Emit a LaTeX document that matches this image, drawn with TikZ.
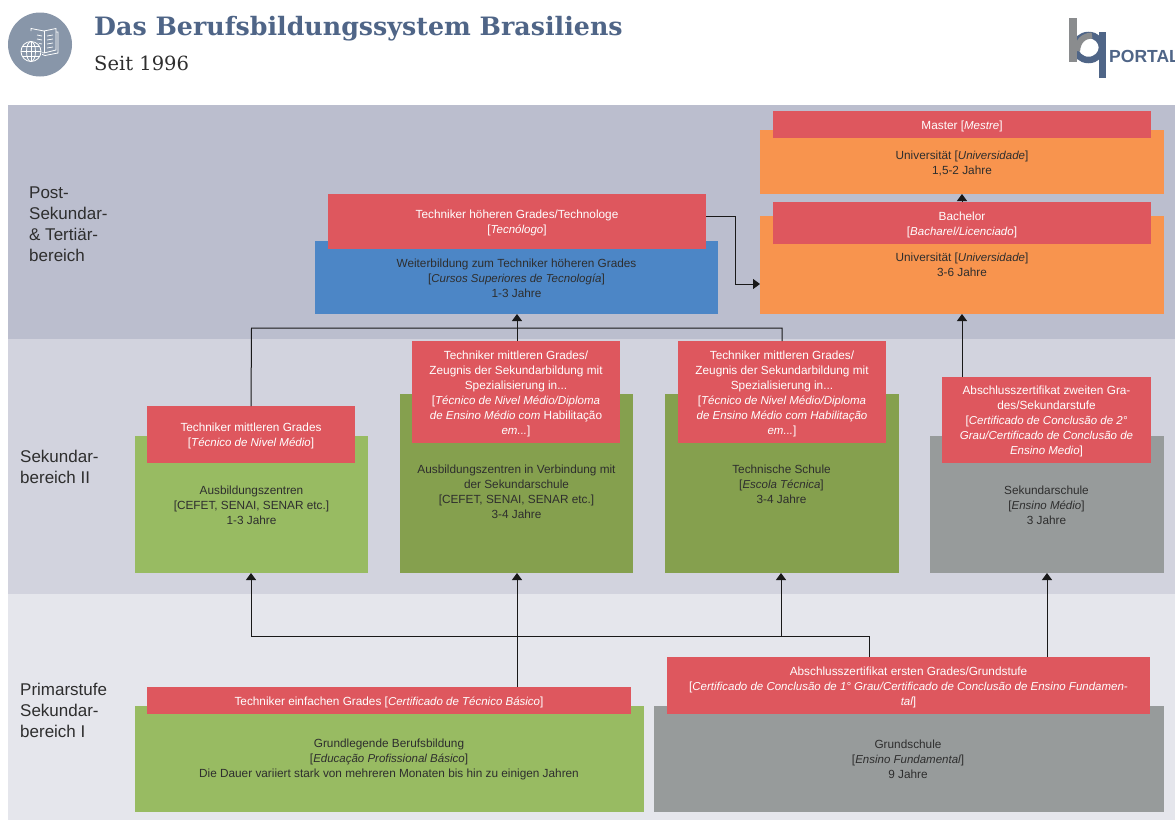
\documentclass[tikz,border=0pt]{standalone}
\usepackage{fontspec}
\setmainfont{Liberation Sans}
\newfontfamily\slabfont{DejaVu Serif}
\usetikzlibrary{arrows.meta}
\definecolor{bandA}{HTML}{BBBECE}
\definecolor{bandB}{HTML}{D2D3DE}
\definecolor{bandC}{HTML}{E5E6EC}
\definecolor{redbox}{HTML}{DE575E}
\definecolor{orangebox}{HTML}{F8944E}
\definecolor{bluebox}{HTML}{4C86C6}
\definecolor{lightgreen}{HTML}{98BB62}
\definecolor{darkgreen}{HTML}{85A04E}
\definecolor{greybox}{HTML}{979B9B}
\definecolor{titleblue}{HTML}{4F6587}
\definecolor{iconblue}{HTML}{8896A9}
\definecolor{logogrey}{HTML}{8A8C8E}
\definecolor{bodytext}{HTML}{2E2E2E}
\newcommand{\ital}[1]{{\fontsize{11.5}{15}\selectfont\itshape #1}}
\tikzset{
  px/.style={x=1pt,y=-1pt},
  fill box/.style={inner sep=0pt,outer sep=0pt,anchor=north west,draw=none},
  body/.style={font=\fontsize{11.8}{15}\selectfont,text=bodytext,align=center,inner sep=0pt},
  redtext/.style={font=\fontsize{11.8}{15}\selectfont,text=white,align=center,inner sep=0pt},
  side/.style={font=\fontsize{17}{21}\selectfont,text=bodytext,align=left,inner sep=0pt,anchor=north west},
  link/.style={draw=black!90,line width=1pt},
  arrow/.style={link,-{Triangle[length=7pt,width=10pt]}},
  iconline/.style={draw=white,line width=.8pt},
}
% name, x1, y1, x2, y2, fill
\newcommand{\bx}[6]{\pgfmathsetmacro{\bw}{#4-#2}\pgfmathsetmacro{\bh}{#5-#3}%
  \node[fill box,fill=#6,minimum width=\bw pt,minimum height=\bh pt] (#1) at (#2,#3) {};}
% name, text: white caption of a red box
\newcommand{\redcap}[2]{\node[redtext] (#1-text) at ([yshift=-1.5pt]#1.center) {#2};}
\begin{document}
\begin{tikzpicture}[px]
\useasboundingbox (0,0) rectangle (1175,820);
\fill[white] (0,0) rectangle (1175,820);
% bands
\fill[bandA] (8,105) rectangle (1175,339);
\fill[bandB] (8,339) rectangle (1175,594);
\fill[bandC] (8,594) rectangle (1175,820);
% header icon
\fill[iconblue] (40,44.5) circle (32);
\draw[iconline] (31,31) -- (31,28.5) -- (44,31) -- (56,28.5) -- (56,50) -- (44,53) -- (36,51);
\draw[iconline] (44,31) -- (44,53);
\draw[iconline] (56,32) -- (58,32) -- (58,53) -- (45,55.5) -- (41,54);
\foreach \yy in {35,39,43,47}{\draw[iconline,line width=.7pt] (37,\yy) -- (42,\yy+1); \draw[iconline,line width=.7pt] (47,\yy+1) -- (53,\yy);}
\fill[iconblue] (31,51.5) circle (11.5);
\draw[iconline] (31,51.5) circle (10);
\draw[iconline] (31,51.5) ellipse (4.5 and 10);
\draw[iconline] (31,41.5) -- (31,61.5) (21,51.5) -- (41,51.5) (22.5,46.5) -- (39.5,46.5) (22.5,56.5) -- (39.5,56.5);
% title
\node[anchor=west,inner sep=0pt,text=titleblue,font=\slabfont\bfseries\fontsize{25.3}{28}\selectfont] (title) at (94,28.5) {Das Berufsbildungssystem Brasiliens};
\node[anchor=west,inner sep=0pt,text=bodytext,font=\slabfont\fontsize{19.5}{24}\selectfont] (subtitle) at (94,63) {Seit 1996};
% logo
\draw[titleblue,line width=6.5pt] (1088.5,47.5) ellipse (13.5 and 12.5);
\draw[logogrey,line width=6pt] (1077,51) .. controls (1078,41) and (1083,36) .. (1092,35.5);
\fill[titleblue] (1099,32) rectangle (1106,78);
\fill[logogrey] (1069,18) rectangle (1077,62);
\node[anchor=west,inner sep=0pt,text=titleblue,font=\bfseries\fontsize{17.5}{20}\selectfont] (portal) at (1109,56) {PORTAL};
% band labels
\node[side] (l1) at (29,187) {Post-\\Sekundar-\\\& Tertiär-\\bereich};
\node[side] (l2) at (20,450) {Sekundar-\\bereich II};
\node[side] (l3) at (20,683) {Primarstufe\\Sekundar-\\bereich I};
% base boxes
\bx{mastbase}{760}{130}{1164}{194}{orangebox}
\bx{bachbase}{760}{216}{1164}{314}{orangebox}
\bx{bluebase}{315}{241}{718}{314}{bluebox}
\bx{ausb}{135}{436}{368}{573}{lightgreen}
\bx{ausbv}{400}{394}{633}{573}{darkgreen}
\bx{tech}{665}{394}{899}{573}{darkgreen}
\bx{sek}{930}{436}{1164}{573}{greybox}
\bx{grundl}{135}{706}{644}{812}{lightgreen}
\bx{grunds}{654}{706}{1164}{812}{greybox}
% base texts
\node[body] (t1) at (962,163.5) {Universität [\ital{Universidade}]\\1,5-2 Jahre};
\node[body] (t2) at (962,265) {Universität [\ital{Universidade}]\\3-6 Jahre};
\node[body] (t3) at (516.5,278) {Weiterbildung zum Techniker höheren Grades\\{}[\ital{Cursos Superiores de Tecnología}]\\1-3 Jahre};
\node[body] (t4) at (251.5,505) {Ausbildungszentren\\{}[CEFET, SENAI, SENAR etc.]\\1-3 Jahre};
\node[body] (t5) at (516.5,492) {Ausbildungszentren in Verbindung mit\\der Sekundarschule\\{}[CEFET, SENAI, SENAR etc.]\\3-4 Jahre};
\node[body] (t6) at (781.5,484) {Technische Schule\\{}[\ital{Escola Técnica}]\\3-4 Jahre};
\node[body] (t7) at (1046.5,505) {Sekundarschule\\{}[\ital{Ensino Médio}]\\3 Jahre};
\node[body] (t8) at (389,759.5) {Grundlegende Berufsbildung\\{}[\ital{Educação Profissional Básico}]\\Die Dauer variiert stark von mehreren Monaten bis hin zu einigen Jahren};
\node[body] (t9) at (908,759.5) {Grundschule\\{}[\ital{Ensino Fundamental}]\\9 Jahre};
% red boxes
\bx{rmast}{773}{111}{1151}{138}{redbox}
\bx{rbach}{773}{202}{1151}{244}{redbox}
\bx{rtech}{328}{194}{706}{249}{redbox}
\bx{rausb}{147}{406}{355}{463}{redbox}
\bx{rausbv}{412}{341}{620}{443}{redbox}
\bx{rts}{678}{341}{886}{443}{redbox}
\bx{rsek}{942}{377}{1151}{463}{redbox}
\bx{rgrundl}{147}{687}{631}{714}{redbox}
\bx{rgrunds}{667}{657}{1150}{714}{redbox}
\redcap{rmast}{Master [\ital{Mestre}]}
\redcap{rbach}{Bachelor\\{}[\ital{Bacharel/Licenciado}]}
\redcap{rtech}{Techniker höheren Grades/Technologe\\{}[\ital{Tecnólogo}]}
\redcap{rausb}{Techniker mittleren Grades\\{}[\ital{Técnico de Nivel Médio}]}
\redcap{rausbv}{Techniker mittleren Grades/\\Zeugnis der Sekundarbildung mit\\Spezialisierung in...\\{}[\ital{Técnico de Nivel Médio/Diploma}\\\ital{de Ensino Médio com} Habilitação\\\ital{em...}]}
\redcap{rts}{Techniker mittleren Grades/\\Zeugnis der Sekundarbildung mit\\Spezialisierung in...\\{}[\ital{Técnico de Nivel Médio/Diploma}\\\ital{de Ensino Médio com Habilitação}\\\ital{em...}]}
\redcap{rsek}{Abschlusszertifikat zweiten Gra-\\des/Sekundarstufe\\{}[\ital{Certificado de Conclusão de 2°}\\\ital{Grau/Certificado de Conclusão de}\\\ital{Ensino Medio}]}
\redcap{rgrundl}{Techniker einfachen Grades [\ital{Certificado de Técnico Básico}]}
\redcap{rgrunds}{Abschlusszertifikat ersten Grades/Grundstufe\\{}[\ital{Certificado de Conclusão de 1° Grau/Certificado de Conclusão de Ensino Fundamen-}\\\ital{tal}]}
% routing points
\coordinate (upL) at (251.5,328);
\coordinate (upM) at (517,328);
\coordinate (upR) at (782,328);
\coordinate (rightA) at (735,216);
\coordinate (rightB) at (735,284);
\coordinate (colU) at (962,300);
\coordinate (loL) at (251,636);
\coordinate (loM) at (781,636);
\coordinate (loR) at (869,636);
\coordinate (colS) at (1047,600);
% connectors
\draw[link] (rausb.north) -- (upL) -- (upR) -- (rts.north -| upR);
\draw[arrow] (rausbv.north -| upM) -- (bluebase.south -| upM);
\draw[link] (rtech.east |- rightA) -- (rightA) -- (rightB);
\draw[arrow] (rightB) -- (bachbase.west |- rightB);
\draw[arrow] (rsek.north -| colU) -- (bachbase.south -| colU);
\draw[arrow] (rbach.north -| colU) -- (mastbase.south -| colU);
\draw[link] (rgrunds.north -| loR) -- (loR) -- (loL);
\draw[arrow] (loL) -- (ausb.south -| loL);
\draw[arrow] (loM) -- (tech.south -| loM);
\draw[arrow] (rgrundl.north -| upM) -- (ausbv.south -| upM);
\draw[arrow] (rgrunds.north -| colS) -- (sek.south -| colS);
\end{tikzpicture}
\end{document}
